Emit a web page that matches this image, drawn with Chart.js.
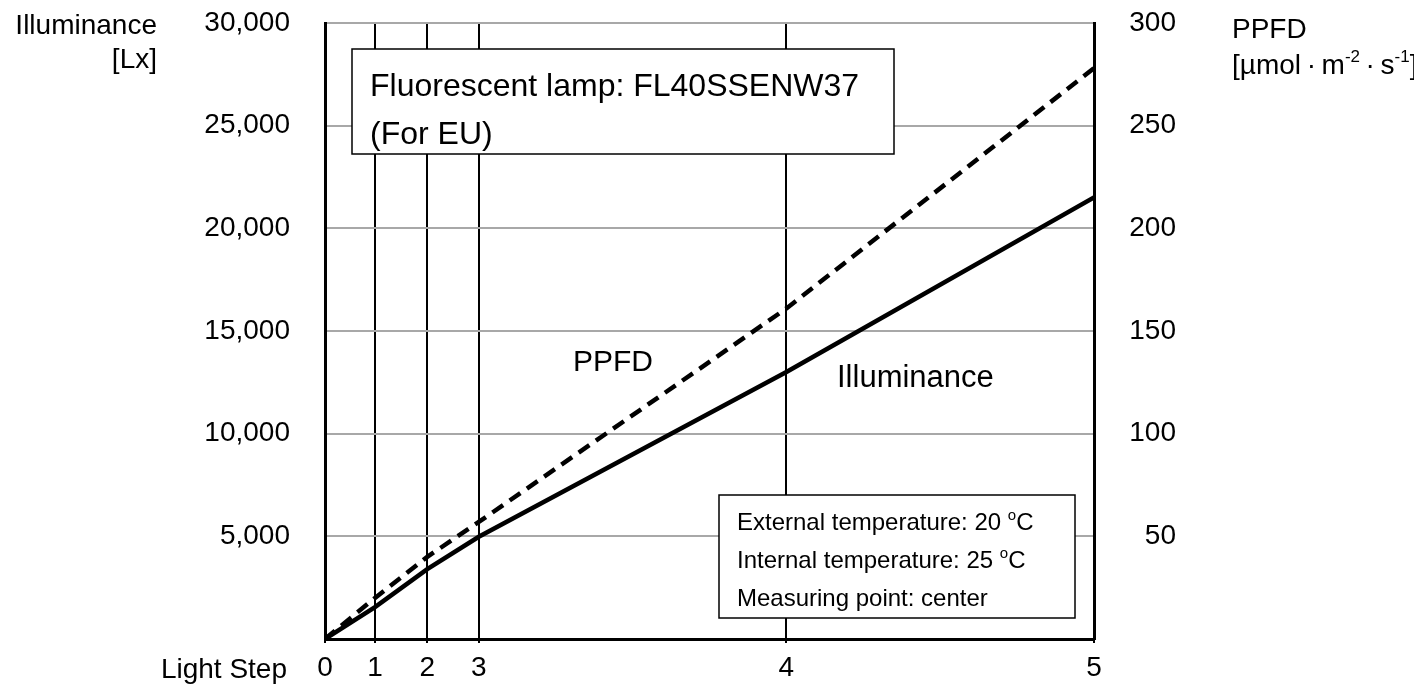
<!DOCTYPE html>
<html>
<head>
<meta charset="utf-8">
<script src="https://cdn.jsdelivr.net/npm/chart.js@4.4.1/dist/chart.umd.min.js"></script>
<style>
    body { margin: 0; background: #fff; }
    #wrap { width: 1414px; height: 686px; }
</style>
</head>
<body>
<div id="wrap"><canvas id="lightChart" width="1414" height="686"></canvas></div>
<script>
// Data diagram
const stepPositions = [0, 6.5, 13.3, 20, 60, 100];
const stepLabels = ['0', '1', '2', '3', '4', '5'];
const illuminanceLx = [0, 1550, 3400, 4980, 13000, 21500];
const ppfdValues = [0, 20, 40, 57, 161, 278];
const luxTicks = [0, 5000, 10000, 15000, 20000, 25000, 30000];
const ppfdTicks = [0, 50, 100, 150, 200, 250, 300];

const FONT = '"Liberation Sans", Arial, sans-serif';

// tulis teks dengan superscript
function drawParts(ctx, parts, x, y, size, align) {
    let total = 0;
    parts.forEach(p => {
        ctx.font = (p.sup ? Math.round(size * 0.62) : size) + 'px ' + FONT;
        p.w = ctx.measureText(p.t).width;
        total += p.w;
    });
    let cx = align === 'right' ? x - total : x;
    parts.forEach(p => {
        ctx.font = (p.sup ? Math.round(size * 0.62) : size) + 'px ' + FONT;
        ctx.fillText(p.t, cx, p.sup ? y - size * 0.42 : y);
        cx += p.w;
    });
}

// buang padding otomatis supaya area chart pas
function noPad(scale) {
    scale.paddingTop = 0;
    scale.paddingBottom = 0;
    scale.paddingLeft = 0;
    scale.paddingRight = 0;
}

const labelsPlugin = {
    id: 'labelsPlugin',
    afterDraw(chart) {
        const ctx = chart.ctx;
        ctx.save();
        ctx.fillStyle = '#000';
        ctx.textAlign = 'left';
        ctx.textBaseline = 'alphabetic';

        // judul sumbu
        drawParts(ctx, [{t: 'Illuminance'}], 157, 34, 28, 'right');
        drawParts(ctx, [{t: '[Lx]'}], 157, 68, 28, 'right');
        drawParts(ctx, [{t: 'PPFD'}], 1232, 38, 28);
        drawParts(ctx, [{t: '[µmol\u2009·\u2009m'}, {t: '-2', sup: true}, {t: '\u2009·\u2009s'}, {t: '-1', sup: true}, {t: ']'}], 1232, 74, 28);
        drawParts(ctx, [{t: 'Light Step'}], 287, 678, 28, 'right');

        // label garis
        drawParts(ctx, [{t: 'PPFD'}], 573, 371, 30);
        drawParts(ctx, [{t: 'Illuminance'}], 837, 387, 31);

        // kotak judul
        ctx.fillStyle = '#fff';
        ctx.strokeStyle = '#000';
        ctx.lineWidth = 1.5;
        ctx.fillRect(352, 49, 542, 105);
        ctx.strokeRect(352, 49, 542, 105);
        ctx.fillStyle = '#000';
        drawParts(ctx, [{t: 'Fluorescent lamp: FL40SSENW37'}], 370, 96, 32);
        drawParts(ctx, [{t: '(For EU)'}], 370, 144, 32);

        // kotak kondisi
        ctx.fillStyle = '#fff';
        ctx.fillRect(719, 495, 356, 123);
        ctx.strokeRect(719, 495, 356, 123);
        ctx.fillStyle = '#000';
        drawParts(ctx, [{t: 'External temperature: 20 '}, {t: 'o', sup: true}, {t: 'C'}], 737, 530, 24);
        drawParts(ctx, [{t: 'Internal temperature: 25 '}, {t: 'o', sup: true}, {t: 'C'}], 737, 568, 24);
        drawParts(ctx, [{t: 'Measuring point: center'}], 737, 606, 24);
        ctx.restore();
    }
};

const ctx = document.getElementById('lightChart').getContext('2d');
const lightChart = new Chart(ctx, {
    type: 'line',
    data: {
        datasets: [
            {
                label: 'Illuminance',
                data: stepPositions.map((x, i) => ({x: x, y: illuminanceLx[i]})),
                yAxisID: 'y',
                borderColor: '#000',
                borderWidth: 4.5,
                pointRadius: 0,
                tension: 0
            },
            {
                label: 'PPFD',
                data: stepPositions.map((x, i) => ({x: x, y: ppfdValues[i]})),
                yAxisID: 'y2',
                borderColor: '#000',
                borderWidth: 4.5,
                borderDash: [13, 8],
                pointRadius: 0,
                tension: 0
            }
        ]
    },
    options: {
        responsive: false,
        animation: false,
        layout: { padding: { top: 23, left: 0, right: 238, bottom: 0 } },
        plugins: {
            legend: { display: false },
            tooltip: { enabled: false }
        },
        scales: {
            x: {
                type: 'linear',
                min: 0,
                max: 100,
                afterBuildTicks: axis => { axis.ticks = stepPositions.map(v => ({value: v})); },
                afterFit: scale => { scale.height = 47; noPad(scale); },
                ticks: {
                    color: '#000',
                    font: { family: FONT, size: 28 },
                    padding: 8,
                    maxRotation: 0,
                    autoSkip: false,
                    callback: (v, i) => stepLabels[i]
                },
                grid: { color: '#000', lineWidth: 2, tickLength: 4, tickColor: '#000' },
                border: { color: '#000', width: 3 }
            },
            y: {
                position: 'left',
                min: 0,
                max: 30000,
                afterBuildTicks: axis => { axis.ticks = luxTicks.map(v => ({value: v})); },
                afterFit: scale => { scale.width = 325; noPad(scale); },
                ticks: {
                    color: '#000',
                    font: { family: FONT, size: 28 },
                    padding: 35,
                    callback: v => v === 0 ? '' : v.toLocaleString('en-US')
                },
                grid: { color: '#a8a8a8', lineWidth: 2, drawTicks: false },
                border: { color: '#000', width: 3 }
            },
            y2: {
                position: 'right',
                min: 0,
                max: 300,
                afterBuildTicks: axis => { axis.ticks = ppfdTicks.map(v => ({value: v})); },
                afterFit: scale => { scale.width = 82; noPad(scale); },
                ticks: {
                    color: '#000',
                    font: { family: FONT, size: 28 },
                    padding: 30,
                    crossAlign: 'far',
                    callback: v => v === 0 ? '' : String(v)
                },
                grid: { drawOnChartArea: false, drawTicks: false },
                border: { color: '#000', width: 3 }
            }
        }
    },
    plugins: [labelsPlugin]
});
</script>
</body>
</html>
